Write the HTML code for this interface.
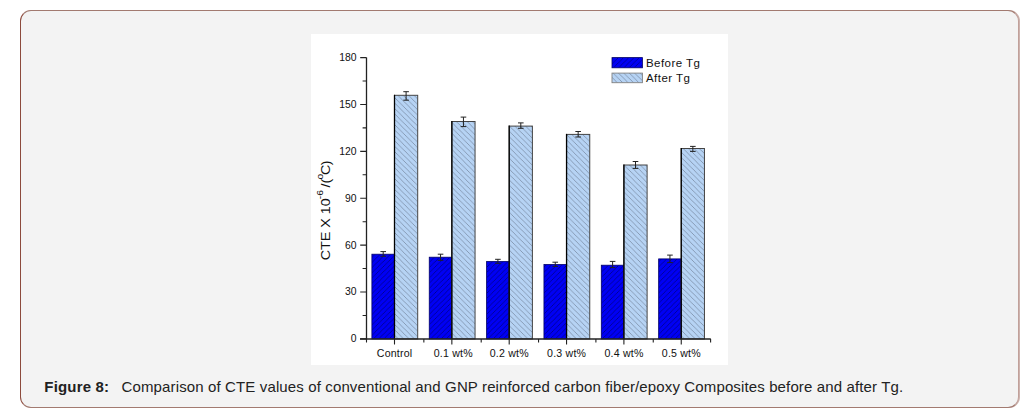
<!DOCTYPE html>
<html><head><meta charset="utf-8"><style>
html,body{margin:0;padding:0;background:#fff;width:1034px;height:417px;overflow:hidden}
.fig{position:absolute;left:20px;top:10px;width:999px;height:398px;box-sizing:border-box;border:1px solid #a27a70;border-left-color:#8c4a3c;border-right-color:#c0a09a;box-shadow:1px 0 0 #cdb3ae;border-radius:11px;background:#f3f3f3}
svg{position:absolute;left:0;top:0}
svg text{font-family:"Liberation Sans",Arial,sans-serif;fill:#111}
.yt{font-size:10.4px;text-anchor:end}
.xt{font-size:10.6px;text-anchor:middle;letter-spacing:0.2px}
.lg{font-size:11.5px;letter-spacing:0.45px}
.yl{font-size:13px}
.cap{position:absolute;left:44.3px;top:378px;font-family:"Liberation Sans",Arial,sans-serif;font-size:15px;line-height:18px;color:#222;white-space:nowrap}
.cap{letter-spacing:0.13px}.cap b{font-weight:bold;letter-spacing:0.18px}
</style></head><body>
<div class="fig"></div>
<svg width="1034" height="417" viewBox="0 0 1034 417">
<defs>
<pattern id="pb" patternUnits="userSpaceOnUse" width="5.2" height="5.2"><rect width="5.2" height="5.2" fill="#0000f4"/><path d="M-1.3 1.3L1.3 -1.3M0 5.2L5.2 0M3.9 6.5L6.5 3.9" stroke="#000090" stroke-width="0.85"/></pattern>
<pattern id="pl" patternUnits="userSpaceOnUse" width="5.4" height="5.4"><rect width="5.4" height="5.4" fill="#b6d3f4"/><path d="M-1.35 4.05L1.35 6.75M0 0L5.4 5.4M4.05 -1.35L6.75 1.35" stroke="#72849a" stroke-width="0.7"/></pattern>
</defs>
<rect x="311" y="34" width="417" height="331" fill="#fff"/>
<rect x="371.90" y="254.20" width="22.60" height="84.70" fill="url(#pb)" stroke="#000066" stroke-width="0.8"/>
<rect x="394.50" y="95.30" width="23.20" height="243.60" fill="url(#pl)" stroke="#444" stroke-width="1"/>
<line x1="394.50" y1="94.80" x2="394.50" y2="338.90" stroke="#000" stroke-width="1.3"/>
<rect x="429.25" y="257.20" width="22.60" height="81.70" fill="url(#pb)" stroke="#000066" stroke-width="0.8"/>
<rect x="451.85" y="121.50" width="23.20" height="217.40" fill="url(#pl)" stroke="#444" stroke-width="1"/>
<line x1="451.85" y1="121.00" x2="451.85" y2="338.90" stroke="#000" stroke-width="1.3"/>
<rect x="486.60" y="261.50" width="22.60" height="77.40" fill="url(#pb)" stroke="#000066" stroke-width="0.8"/>
<rect x="509.20" y="126.10" width="23.20" height="212.80" fill="url(#pl)" stroke="#444" stroke-width="1"/>
<line x1="509.20" y1="125.60" x2="509.20" y2="338.90" stroke="#000" stroke-width="1.3"/>
<rect x="543.95" y="264.50" width="22.60" height="74.40" fill="url(#pb)" stroke="#000066" stroke-width="0.8"/>
<rect x="566.55" y="134.40" width="23.20" height="204.50" fill="url(#pl)" stroke="#444" stroke-width="1"/>
<line x1="566.55" y1="133.90" x2="566.55" y2="338.90" stroke="#000" stroke-width="1.3"/>
<rect x="601.30" y="265.20" width="22.60" height="73.70" fill="url(#pb)" stroke="#000066" stroke-width="0.8"/>
<rect x="623.90" y="165.00" width="23.20" height="173.90" fill="url(#pl)" stroke="#444" stroke-width="1"/>
<line x1="623.90" y1="164.50" x2="623.90" y2="338.90" stroke="#000" stroke-width="1.3"/>
<rect x="658.65" y="258.90" width="22.60" height="80.00" fill="url(#pb)" stroke="#000066" stroke-width="0.8"/>
<rect x="681.25" y="148.50" width="23.20" height="190.40" fill="url(#pl)" stroke="#444" stroke-width="1"/>
<line x1="681.25" y1="148.00" x2="681.25" y2="338.90" stroke="#000" stroke-width="1.3"/>
<path d="M380.40 251.60H386.00M383.20 251.60V256.30M380.40 256.30H386.00" stroke="#222" stroke-width="1" fill="none"/>
<path d="M403.30 91.70H408.90M406.10 91.70V100.20M403.30 100.20H408.90" stroke="#222" stroke-width="1" fill="none"/>
<path d="M437.75 254.20H443.35M440.55 254.20V260.30M437.75 260.30H443.35" stroke="#222" stroke-width="1" fill="none"/>
<path d="M460.65 117.10H466.25M463.45 117.10V126.60M460.65 126.60H466.25" stroke="#222" stroke-width="1" fill="none"/>
<path d="M495.10 259.30H500.70M497.90 259.30V263.30M495.10 263.30H500.70" stroke="#222" stroke-width="1" fill="none"/>
<path d="M518.00 122.90H523.60M520.80 122.90V128.30M518.00 128.30H523.60" stroke="#222" stroke-width="1" fill="none"/>
<path d="M552.45 262.20H558.05M555.25 262.20V266.40M552.45 266.40H558.05" stroke="#222" stroke-width="1" fill="none"/>
<path d="M575.35 131.50H580.95M578.15 131.50V137.00M575.35 137.00H580.95" stroke="#222" stroke-width="1" fill="none"/>
<path d="M609.80 261.40H615.40M612.60 261.40V267.60M609.80 267.60H615.40" stroke="#222" stroke-width="1" fill="none"/>
<path d="M632.70 161.50H638.30M635.50 161.50V168.40M632.70 168.40H638.30" stroke="#222" stroke-width="1" fill="none"/>
<path d="M667.15 255.10H672.75M669.95 255.10V262.60M667.15 262.60H672.75" stroke="#222" stroke-width="1" fill="none"/>
<path d="M690.05 146.40H695.65M692.85 146.40V151.40M690.05 151.40H695.65" stroke="#222" stroke-width="1" fill="none"/>
<path d="M366.5 57.6V339.4" stroke="#222" stroke-width="1.3" fill="none"/>
<path d="M360 339H710.8" stroke="#222" stroke-width="1.3" fill="none"/>
<text x="356.5" y="342.30" class="yt">0</text>
<text x="356.5" y="295.42" class="yt">30</text>
<text x="356.5" y="248.53" class="yt">60</text>
<text x="356.5" y="201.65" class="yt">90</text>
<text x="356.5" y="154.76" class="yt">120</text>
<text x="356.5" y="107.88" class="yt">150</text>
<text x="356.5" y="61.00" class="yt">180</text>
<path d="M360.2 338.90H366.5M360.2 292.02H366.5M360.2 245.13H366.5M360.2 198.25H366.5M360.2 151.36H366.5M360.2 104.48H366.5M360.2 57.60H366.5M362.6 315.46H366.5M362.6 268.57H366.5M362.6 221.69H366.5M362.6 174.81H366.5M362.6 127.92H366.5M362.6 81.04H366.5M394.50 339V344.6M451.85 339V344.6M509.20 339V344.6M566.55 339V344.6M623.90 339V344.6M681.25 339V344.6M366.50 339V342.4M423.85 339V342.4M481.20 339V342.4M538.55 339V342.4M595.90 339V342.4M653.25 339V342.4M710.60 339V342.4" stroke="#222" stroke-width="1.1" fill="none"/>
<text x="394.60" y="357.2" class="xt">Control</text>
<text x="453.25" y="357.2" class="xt">0.1 wt%</text>
<text x="509.30" y="357.2" class="xt">0.2 wt%</text>
<text x="566.65" y="357.2" class="xt">0.3 wt%</text>
<text x="624.00" y="357.2" class="xt">0.4 wt%</text>
<text x="681.35" y="357.2" class="xt">0.5 wt%</text>
<rect x="612" y="57.6" width="30.4" height="10.2" fill="url(#pb)" stroke="#000066" stroke-width="0.8"/>
<rect x="612" y="73.1" width="30.4" height="9.6" fill="url(#pl)" stroke="#808080" stroke-width="0.9"/>
<text x="646" y="67" class="lg">Before Tg</text>
<text x="646" y="81.9" class="lg">After Tg</text>
<text transform="translate(329.6 260.3) rotate(-90) scale(1.1 1)" class="yl">CTE X 10<tspan dx="-0.8" dy="-7" font-size="9.4">-6</tspan><tspan dx="-1.2" dy="7"> /(</tspan><tspan dx="-0.8" dy="-7" font-size="9.4">o</tspan><tspan dx="-1" dy="7">C</tspan><tspan dx="-0.6">)</tspan></text>
</svg>
<div class="cap"><b>Figure 8:</b><span style="display:inline-block;width:12.3px"></span>Comparison of CTE values of conventional and GNP reinforced carbon fiber/epoxy Composites before and after Tg.</div>
</body></html>
